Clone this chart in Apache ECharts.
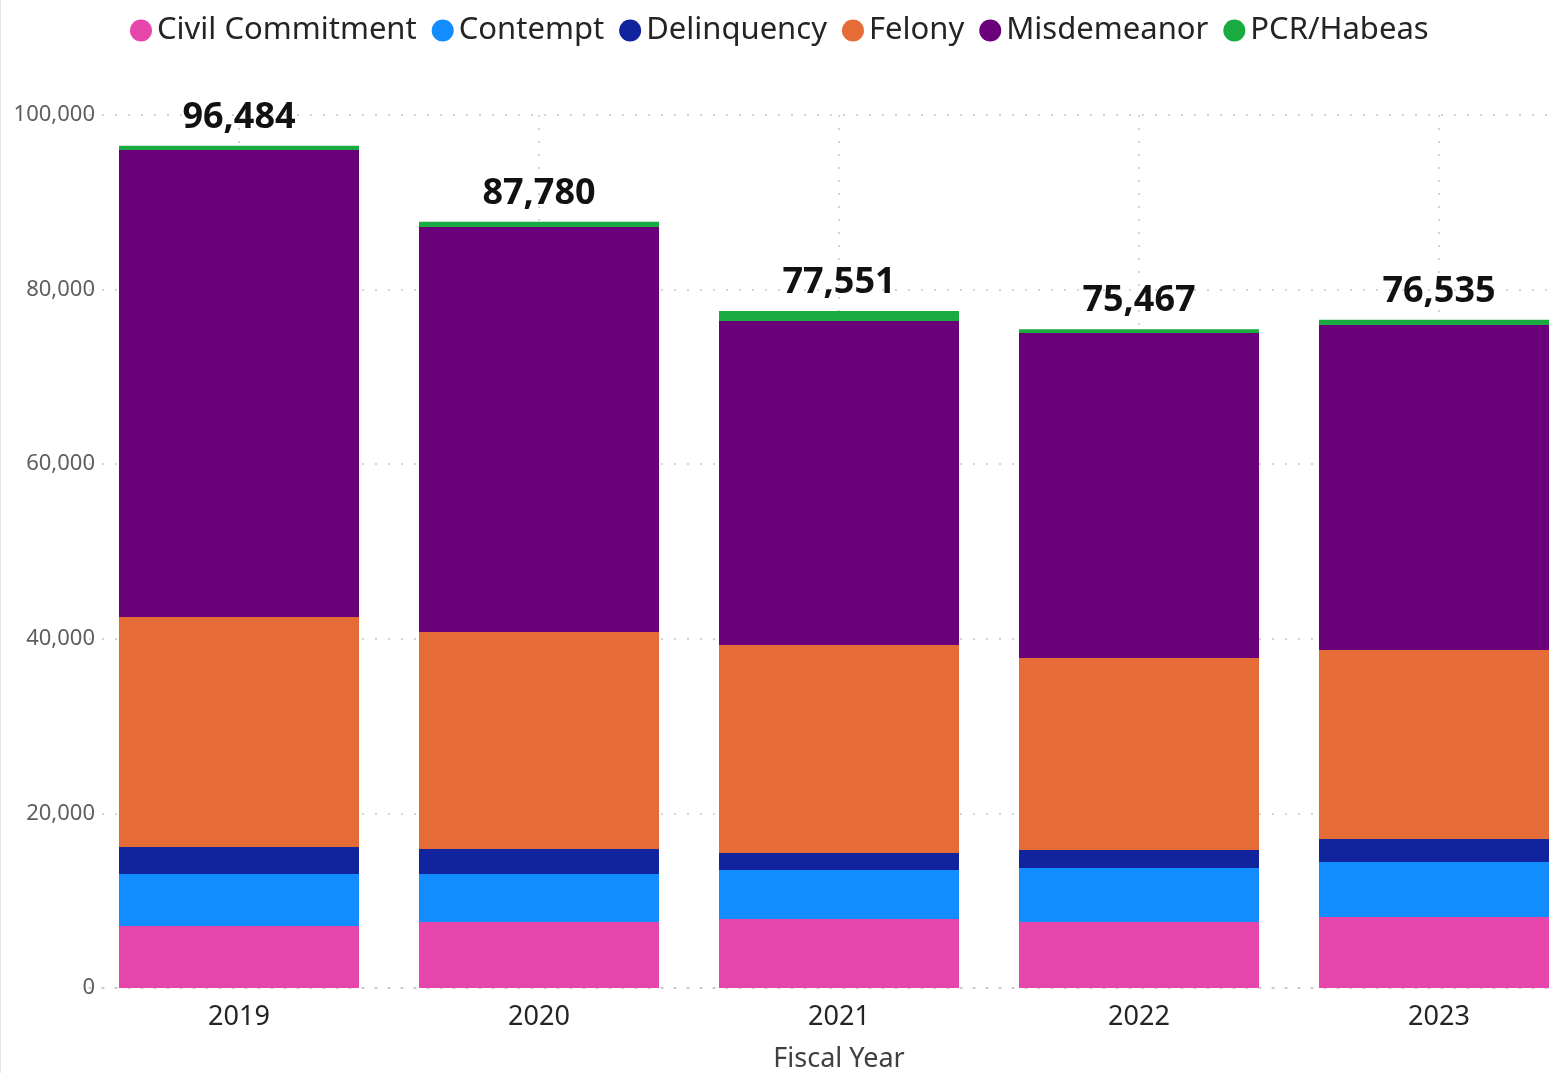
<!DOCTYPE html>
<html>
<head>
<meta charset="utf-8">
<script src="https://cdn.jsdelivr.net/npm/echarts@6/dist/echarts.min.js"></script>
<style>
  html, body { margin: 0; padding: 0; background: #fff; }
  #chart { width: 1549px; height: 1073px; box-sizing: border-box; border-left: 1px solid #e6e6e6; }
</style>
</head>
<body>
<div id="chart"></div>
<script>
// fiscal years and case counts per category
var years = ['2019', '2020', '2021', '2022', '2023'];
var civilCommitment = [7100, 7560, 7900, 7560, 8130];
var contempt = [5950, 5500, 5620, 6190, 6300];
var delinquency = [3100, 2860, 1940, 2060, 2640];
var felony = [26350, 24860, 23830, 21990, 21650];
var misdemeanor = [53500, 46400, 37110, 37230, 37230];
var pcrHabeas = [484, 600, 1151, 437, 585];
var yTicks = [0, 20000, 40000, 60000, 80000, 100000];

var font = '"Segoe UI", "Noto Sans", sans-serif';
var dots = [2, 11];

var chartDom = document.getElementById('chart');
var myChart = echarts.init(chartDom);

function total(i) {
  return civilCommitment[i] + contempt[i] + delinquency[i] + felony[i] + misdemeanor[i] + pcrHabeas[i];
}

function makeSeries(name, data, color) {
  return {
    name: name,
    type: 'bar',
    stack: 'cases',
    barCategoryGap: '20%',
    z: 3,
    itemStyle: { color: color },
    emphasis: { disabled: true },
    data: data
  };
}

var series = [
  makeSeries('Civil Commitment', civilCommitment, '#E645AB'),
  makeSeries('Contempt', contempt, '#118DFF'),
  makeSeries('Delinquency', delinquency, '#12239E'),
  makeSeries('Felony', felony, '#E66C37'),
  makeSeries('Misdemeanor', misdemeanor, '#6B007B'),
  makeSeries('PCR/Habeas', pcrHabeas, '#1AAB40')
];

// total label on top of each stack
series[5].label = {
  show: true,
  position: 'top',
  distance: 10,
  fontFamily: font,
  fontSize: 36,
  fontWeight: 'bold',
  color: '#111',
  formatter: function (p) {
    return total(p.dataIndex).toLocaleString('en-US');
  }
};

var legendNames = series.map(function (s) { return s.name; });

// dotted vertical gridlines at category centres, kept behind the bars
series.push({
  name: 'grid-v',
  type: 'line',
  z: 1,
  silent: true,
  data: [],
  markLine: {
    z: 1,
    silent: true,
    symbol: 'none',
    label: { show: false },
    lineStyle: { color: '#C8C6C4', type: dots, width: 1.5 },
    data: years.map(function (y) { return { xAxis: y }; })
  }
});

var option = {
  animation: false,
  textStyle: { fontFamily: font },
  legend: {
    top: 10,
    left: 124,
    icon: 'circle',
    itemWidth: 22,
    itemHeight: 22,
    itemGap: 15,
    textStyle: { fontFamily: font, fontSize: 31, color: '#252423', padding: [0, 0, 0, 0] },
    data: legendNames
  },
  grid: {
    left: 88,
    width: 1500,
    top: 115,
    bottom: 85,
    outerBoundsMode: 'none',
    containLabel: false
  },
  xAxis: {
    type: 'category',
    data: years,
    name: 'Fiscal Year',
    nameLocation: 'middle',
    nameGap: 58,
    nameTextStyle: { fontFamily: font, fontSize: 27, color: '#404040' },
    axisTick: { show: false },
    axisLine: { show: true, lineStyle: { color: '#C8C6C4', type: dots, width: 1.5 } },
    axisLabel: { fontFamily: font, fontSize: 27, color: '#252423', margin: 16 }
  },
  yAxis: {
    type: 'value',
    min: yTicks[0],
    max: yTicks[yTicks.length - 1],
    interval: yTicks[1] - yTicks[0],
    axisLine: { show: false },
    axisTick: { show: false },
    axisLabel: {
      fontFamily: font,
      fontSize: 22,
      color: '#605E5C',
      margin: -6,
      formatter: function (v) { return v.toLocaleString('en-US'); }
    },
    splitLine: { lineStyle: { color: '#C8C6C4', type: dots, width: 1.5 } }
  },
  series: series
};

option && myChart.setOption(option);
window.addEventListener('resize', function () {
  myChart.resize();
});
</script>
</body>
</html>
